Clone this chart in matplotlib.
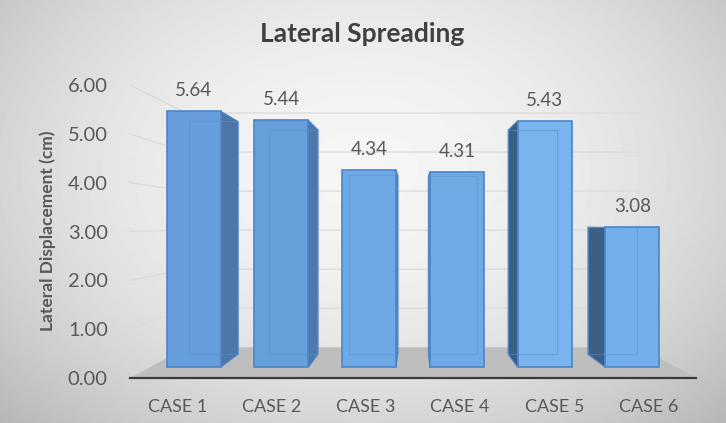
import numpy as np
import matplotlib
matplotlib.use("Agg")
import matplotlib.pyplot as plt
from matplotlib.patches import Polygon

# data
cases = ["CASE 1", "CASE 2", "CASE 3", "CASE 4", "CASE 5", "CASE 6"]
values = [5.64, 5.44, 4.34, 4.31, 5.43, 3.08]
y_ticks = [0, 1, 2, 3, 4, 5, 6]

# styling of the boxes (front / side face)
front_colors = ["#669DDA", "#679FDB", "#6EA9E6", "#6FAAE7", "#79B4EE", "#73AEEB"]
side_colors = ["#4D77A7", "#4D79AA", "#4A78A8", "#4A78A8", "#3A5F86", "#3C5E84"]
edge_color = "#4A86C6"
text_color = "#595959"

plt.rcParams['font.family'] = ['Lato', 'DejaVu Sans']

# simple perspective: points shrink towards a vanishing point with depth
VX, VY = 3.0, 3.15
D_FRONT, D_BACK, D_WALL = 0.93, 0.846, 0.80
BAR_W = 0.615


def proj(x, y, depth):
    return VX + (x - VX) * depth, VY + (y - VY) * depth


fig = plt.figure(figsize=(7.26, 4.23), dpi=100)

# gray gradient background
bg = fig.add_axes([0, 0, 1, 1])
yy, xx = np.mgrid[0:423, 0:726]
r = np.sqrt(((xx - 363) / 420.0) ** 2 + ((yy - 170) / 300.0) ** 2)
shade = np.clip(0.96 - 0.17 * r ** 2, 0, 1)
bg.imshow(shade, cmap="gray", vmin=0, vmax=1, aspect="auto",
          extent=(0, 1, 0, 1), origin="upper")
bg.axis("off")

ax = fig.add_axes([130 / 726, 1 - 378 / 423, 566 / 726, 6 * 48.8 / 423])
ax.set_xlim(0, 6)
ax.set_ylim(0, 6)
ax.patch.set_visible(False)

# floor
floor = [proj(0, 0, 1), proj(6, 0, 1), proj(6, 0, D_WALL), proj(0, 0, D_WALL)]
ax.add_patch(Polygon(floor, closed=True, facecolor="#BEBEBE", edgecolor="none",
                     zorder=1, clip_on=False))

# gridlines on the back wall + the short diagonal to the axis
for t in y_ticks[1:]:
    x0, y0 = proj(0, t, 1)
    x1, y1 = proj(0, t, D_WALL)
    x2, y2 = proj(6, t, D_WALL)
    ax.plot([x0, x1, x2], [y0, y1, y2], color="#DADADA", lw=0.9, zorder=1.5,
            clip_on=False)

# bars
for i, v in enumerate(values):
    xl = i + 0.5 - BAR_W / 2
    xr = i + 0.5 + BAR_W / 2
    front = [proj(xl, 0, D_FRONT), proj(xr, 0, D_FRONT),
             proj(xr, v, D_FRONT), proj(xl, v, D_FRONT)]
    back = [proj(xl, 0, D_BACK), proj(xr, 0, D_BACK),
            proj(xr, v, D_BACK), proj(xl, v, D_BACK)]
    z = 3 + abs(i + 0.5 - VX) * -0.1
    if xr < VX:
        side = [front[1], back[1], back[2], front[2]]
    elif xl > VX:
        side = [front[0], back[0], back[3], front[3]]
    else:
        side = None
    if side is not None:
        ax.add_patch(Polygon(side, closed=True, facecolor=side_colors[i],
                             edgecolor=edge_color, lw=0.8, zorder=z, clip_on=False))
    ax.add_patch(Polygon(front, closed=True, facecolor=front_colors[i],
                         edgecolor=edge_color, lw=1.2, zorder=z + 0.01, clip_on=False))
    # back edges seen through the box
    ax.add_patch(Polygon(back, closed=True, facecolor="none",
                         edgecolor="#5A8FCB", lw=0.8, alpha=0.5,
                         zorder=z + 0.02, clip_on=False))
    lx, ly = proj(i + 0.5, v, D_FRONT)
    ax.text(lx, ly + 0.42, f"{v:.2f}", ha="center", va="center",
            fontsize=13.5, color=text_color, zorder=10)

# axes styling
ax.set_yticks(y_ticks)
ax.set_yticklabels([f"{t:.2f}" for t in y_ticks], fontsize=14.5, color=text_color)
ax.set_xticks(np.arange(len(cases)) + 0.5)
ax.set_xticklabels(cases, fontsize=13, color=text_color)
ax.tick_params(axis="y", length=0, pad=16)
ax.tick_params(axis="x", length=0, pad=15)
for s in ["top", "right", "left"]:
    ax.spines[s].set_visible(False)
ax.spines["bottom"].set_color("#3A3A3A")
ax.spines["bottom"].set_linewidth(1.6)
ax.spines["bottom"].set_zorder(2)

fig.text(48 / 726, 1 - 231 / 423, "Lateral Displacement (cm)", rotation=90,
         ha="center", va="center", fontsize=12.5, fontweight="bold", color=text_color)
fig.text(362 / 726, 1 - 34 / 423, "Lateral Spreading", ha="center", va="center",
         fontsize=19, fontweight="bold", color="#404040")

plt.savefig("out.png", dpi=100)
